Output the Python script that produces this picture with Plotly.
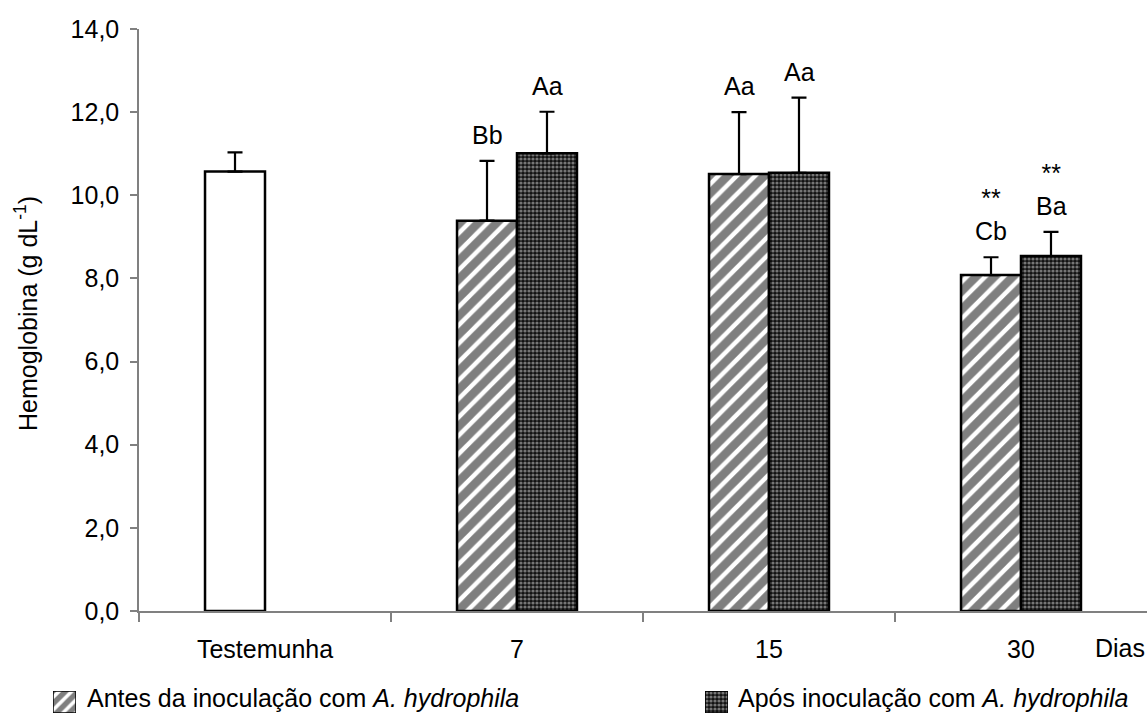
import plotly.graph_objects as go

# ---- data ----
categories = ["Testemunha", "7", "15", "30"]
antes_vals = [10.57, 9.39, 10.51, 8.08]
antes_err = [0.46, 1.44, 1.49, 0.43]
apos_vals = [None, 11.01, 10.54, 8.54]
apos_err = [0, 1.00, 1.81, 0.58]
antes_labels = ["", "Bb", "Aa", "**<br>Cb"]
apos_labels = ["", "Aa", "Aa", "**<br>Ba"]
y_ticks = [0, 2, 4, 6, 8, 10, 12, 14]

W, H = 1148, 720
FONT = "Liberation Sans, Arial, sans-serif"
FS = 25

def px_x(p):
    return p / W

def px_y(p):
    return 1 - p / H

stripe = dict(shape=["", "/", "/", "/"], fgcolor="black", bgcolor="white", size=13, solidity=0.65)
dots = dict(shape=".", fgcolor="#dcdcdc", bgcolor="#111111", size=4, solidity=0.5)

fig = go.Figure()
fig.add_trace(go.Bar(
    x=categories, y=antes_vals, name="Antes",
    marker=dict(color="white", line=dict(color="black", width=2.5), pattern=stripe),
    error_y=dict(type="data", array=antes_err, arrayminus=[0] * 4, symmetric=False,
                 color="black", thickness=2.2, width=7.5),
    showlegend=False,
))
fig.add_trace(go.Bar(
    x=categories, y=apos_vals, name="Após",
    marker=dict(color="#111111", line=dict(color="black", width=2.5), pattern=dots),
    error_y=dict(type="data", array=apos_err, arrayminus=[0] * 4, symmetric=False,
                 color="black", thickness=2.2, width=7.5),
    showlegend=False,
))

# legend icons in small inset axes
fig.add_trace(go.Bar(x=[0], y=[1], width=[1], xaxis="x2", yaxis="y2", showlegend=False,
                     hoverinfo="skip",
                     marker=dict(color="white", line=dict(color="black", width=1.5),
                                 pattern=dict(shape="/", fgcolor="black", bgcolor="white",
                                              size=9, solidity=0.6))))
fig.add_trace(go.Bar(x=[0], y=[1], width=[1], xaxis="x3", yaxis="y3", showlegend=False,
                     hoverinfo="skip",
                     marker=dict(color="#111111", line=dict(color="black", width=1.5),
                                 pattern=dots)))

annotations = []
bar_off = 30
for i, c in enumerate(categories):
    if antes_labels[i]:
        annotations.append(dict(x=i, y=antes_vals[i] + antes_err[i], xref="x", yref="y",
                                text=antes_labels[i], showarrow=False, xshift=-bar_off,
                                yanchor="bottom", yshift=10, font=dict(size=FS)))
    if apos_labels[i]:
        annotations.append(dict(x=i, y=apos_vals[i] + apos_err[i], xref="x", yref="y",
                                text=apos_labels[i], showarrow=False, xshift=bar_off,
                                yanchor="bottom", yshift=10, font=dict(size=FS)))

annotations += [
    dict(x=px_x(8), y=px_y(314), xref="paper", yref="paper", text="Hemoglobina (g dL<sup>-1</sup>)",
         textangle=-90, xanchor="left", showarrow=False, font=dict(size=FS)),
    dict(x=px_x(1147), y=px_y(664), xref="paper", yref="paper", text="Dias",
         xanchor="right", showarrow=False, font=dict(size=FS)),
    dict(x=px_x(85), y=px_y(714), xref="paper", yref="paper",
         text="Antes da inoculação com <i>A. hydrophila</i>", xanchor="left",
         showarrow=False, font=dict(size=FS)),
    dict(x=px_x(736), y=px_y(714), xref="paper", yref="paper",
         text="Após inoculação com <i>A. hydrophila</i>", xanchor="left",
         showarrow=False, font=dict(size=FS)),
]

axis_gray = "#808080"
fig.update_layout(
    width=W, height=H,
    margin=dict(l=0, r=0, t=0, b=0),
    paper_bgcolor="white", plot_bgcolor="white",
    font=dict(family=FONT, size=FS, color="black"),
    separators=", ",
    barmode="group", bargap=0.524, bargroupgap=0,
    xaxis=dict(domain=[px_x(139), px_x(1147)], type="category", categoryorder="array",
               categoryarray=categories, range=[-0.5, 3.5],
               showline=True, linecolor=axis_gray, linewidth=1.5,
               ticks="outside", tickson="boundaries", ticklen=9, tickcolor=axis_gray,
               tickwidth=1.5, showgrid=False, zeroline=False, automargin=False,
               ticklabelstandoff=15),
    yaxis=dict(domain=[px_y(611), px_y(29)], range=[0, 14], tickvals=y_ticks,
               tickformat=".1f", showline=True, linecolor=axis_gray, linewidth=1.5,
               ticks="outside", ticklen=7, tickcolor=axis_gray, tickwidth=1.5,
               showgrid=False, zeroline=False, automargin=False, ticklabelstandoff=6),
    xaxis2=dict(domain=[px_x(53), px_x(76)], range=[-0.5, 0.5], visible=False, anchor="y2"),
    yaxis2=dict(domain=[px_y(713), px_y(691)], range=[0, 1], visible=False, anchor="x2"),
    xaxis3=dict(domain=[px_x(705), px_x(728)], range=[-0.5, 0.5], visible=False, anchor="y3"),
    yaxis3=dict(domain=[px_y(713), px_y(691)], range=[0, 1], visible=False, anchor="x3"),
    annotations=annotations,
)

fig.write_html("out.html")
